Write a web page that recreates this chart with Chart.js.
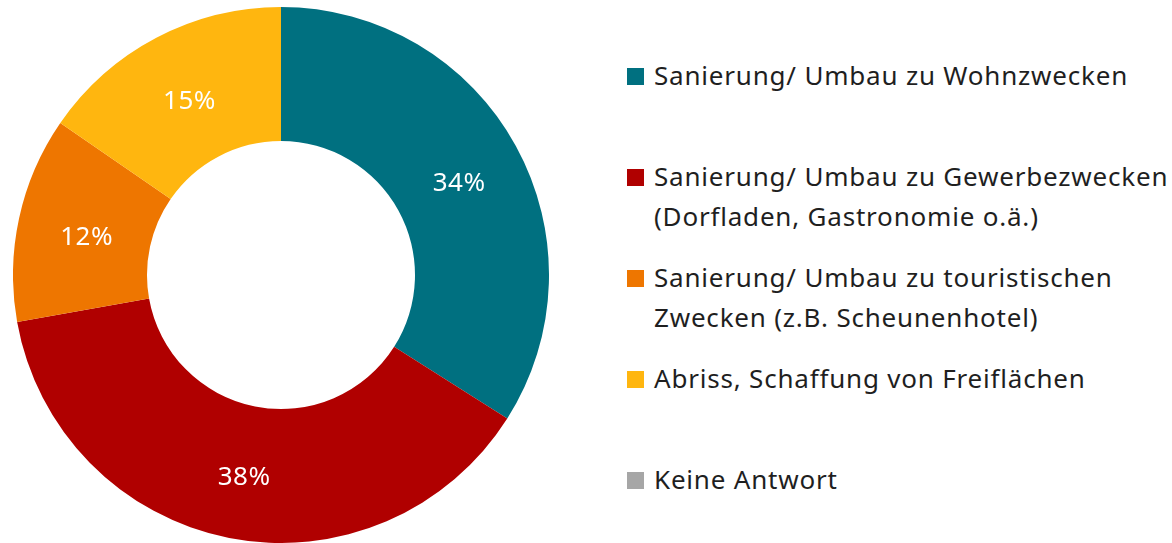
<!DOCTYPE html>
<html>
<head>
<meta charset="utf-8">
<script src="https://cdn.jsdelivr.net/npm/chart.js@4"></script>
<style>
  html,body{margin:0;padding:0;background:#fff;}
  body{width:1172px;height:543px;position:relative;overflow:hidden;font-family:"Noto Sans",sans-serif;}
  #pieWrap{position:absolute;left:13px;top:7px;width:536px;height:536px;}
  #legend{position:absolute;left:627px;top:0;width:545px;height:543px;}
  .row{position:absolute;left:0;display:flex;align-items:flex-start;}
  .sw{width:17px;height:17px;margin-top:13px;margin-right:10px;flex:none;}
  .txt{font-size:26px;line-height:40px;letter-spacing:0.8px;color:#1f1f1f;white-space:nowrap;}
</style>
</head>
<body>
<div id="pieWrap"><canvas id="donut"></canvas></div>
<div id="legend"></div>
<script>
const categories=[
  ['Sanierung/ Umbau zu Wohnzwecken'],
  ['Sanierung/ Umbau zu Gewerbezwecken','(Dorfladen, Gastronomie o.ä.)'],
  ['Sanierung/ Umbau zu touristischen','Zwecken (z.B. Scheunenhotel)'],
  ['Abriss, Schaffung von Freiflächen'],
  ['Keine Antwort']
];
const shares=[34.0,38.2,12.4,15.4,0];
const colors=['#007080','#B00000','#EE7600','#FFB60F','#A6A6A6'];

// legend rows, equal slots like the original
const leg=document.getElementById('legend');
categories.forEach((lines,i)=>{
  const r=document.createElement('div');r.className='row';r.style.top=(55+i*101)+'px';
  const s=document.createElement('div');s.className='sw';s.style.background=colors[i];
  const t=document.createElement('div');t.className='txt';t.innerHTML=lines.join('<br>');
  r.appendChild(s);r.appendChild(t);leg.appendChild(r);
});

const pctLabels={id:'pctLabels',afterDatasetsDraw(chart){
  const ctx=chart.ctx,meta=chart.getDatasetMeta(0);
  ctx.save();ctx.fillStyle='#fff';ctx.font='26px "Noto Sans"';ctx.textAlign='center';ctx.textBaseline='middle';
  ctx.letterSpacing='0.5px';
  meta.data.forEach((arc,i)=>{
    if(!shares[i])return;
    const p=arc.tooltipPosition();
    ctx.fillText(Math.round(shares[i])+'%',p.x+2,p.y+5);
  });
  ctx.restore();
}};

new Chart(document.getElementById('donut'),{type:'doughnut',
  data:{labels:categories,datasets:[{data:shares,backgroundColor:colors,borderWidth:0}]},
  options:{responsive:true,maintainAspectRatio:false,animation:false,cutout:'50%',
    layout:{padding:0},
    plugins:{legend:{display:false},tooltip:{enabled:false}}},
  plugins:[pctLabels]
});
</script>
</body>
</html>
